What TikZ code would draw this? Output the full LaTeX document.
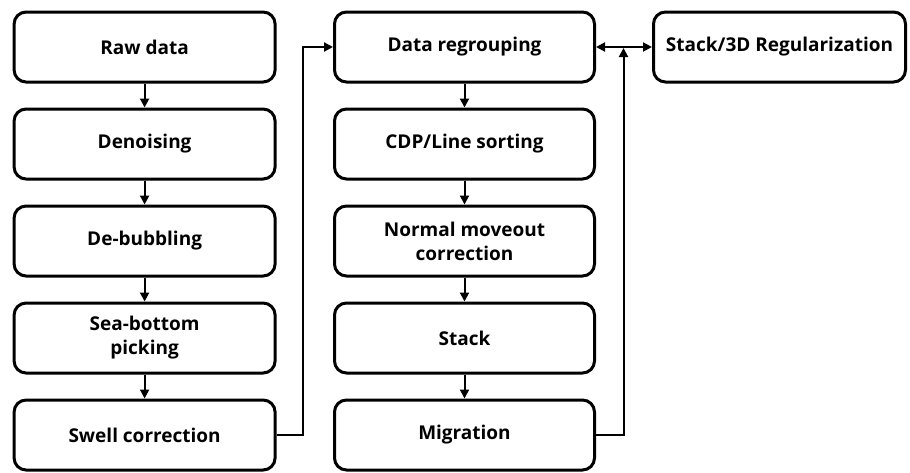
\documentclass[tikz,border=0pt]{standalone}
\usepackage{fontspec}
\setmainfont{Open Sans}
\usetikzlibrary{arrows.meta}
\begin{document}
\begin{tikzpicture}[x=1pt,y=-1pt,
  box/.style={draw=black, line width=3pt, rounded corners=12pt, fill=white,
    minimum height=70pt, align=center, inner sep=2pt,
    font=\fontsize{19}{24}\selectfont\bfseries},
  c1/.style={box, minimum width=261pt},
  c2/.style={box, minimum width=260pt},
  c3/.style={box, minimum width=252pt},
  conn/.style={line width=2pt, -{Triangle[length=9pt,width=9pt]}},
  dconn/.style={line width=2pt, {Triangle[length=9pt,width=9pt]}-{Triangle[length=9pt,width=9pt]}}
]
\useasboundingbox (0,0) rectangle (910,472);
\node[c1] (raw) at (144.6,47) {Raw data};
\node[c1] (den) at (144.6,144) {Denoising};
\node[c1] (deb) at (144.6,241) {De-bubbling};
\node[c1] (sea) at (144.6,338) {Sea-bottom\\picking};
\node[c1] (swell) at (144.6,435) {Swell correction};
\node[c2] (reg) at (464.5,47) {Data regrouping};
\node[c2] (cdp) at (464.5,144) {CDP/Line sorting};
\node[c2] (nmo) at (464.5,241) {Normal moveout\\correction};
\node[c2] (stk) at (464.5,338) {Stack};
\node[c2] (mig) at (464.5,435) {Migration};
\node[c3] (s3d) at (779.5,47) {Stack/3D Regularization};
\draw[conn] (raw) -- (den);
\draw[conn] (den) -- (deb);
\draw[conn] (deb) -- (sea);
\draw[conn] (sea) -- (swell);
\draw[conn] (reg) -- (cdp);
\draw[conn] (cdp) -- (nmo);
\draw[conn] (nmo) -- (stk);
\draw[conn] (stk) -- (mig);
\coordinate (j1) at (302.5,47);
\coordinate (j2) at (623.5,48);
\draw[conn] (swell.east) -| (j1) -- (reg.west);
\draw[dconn] (reg.east) -- (s3d.west);
\draw[conn] (mig.east) -| (j2);
\end{tikzpicture}
\end{document}
